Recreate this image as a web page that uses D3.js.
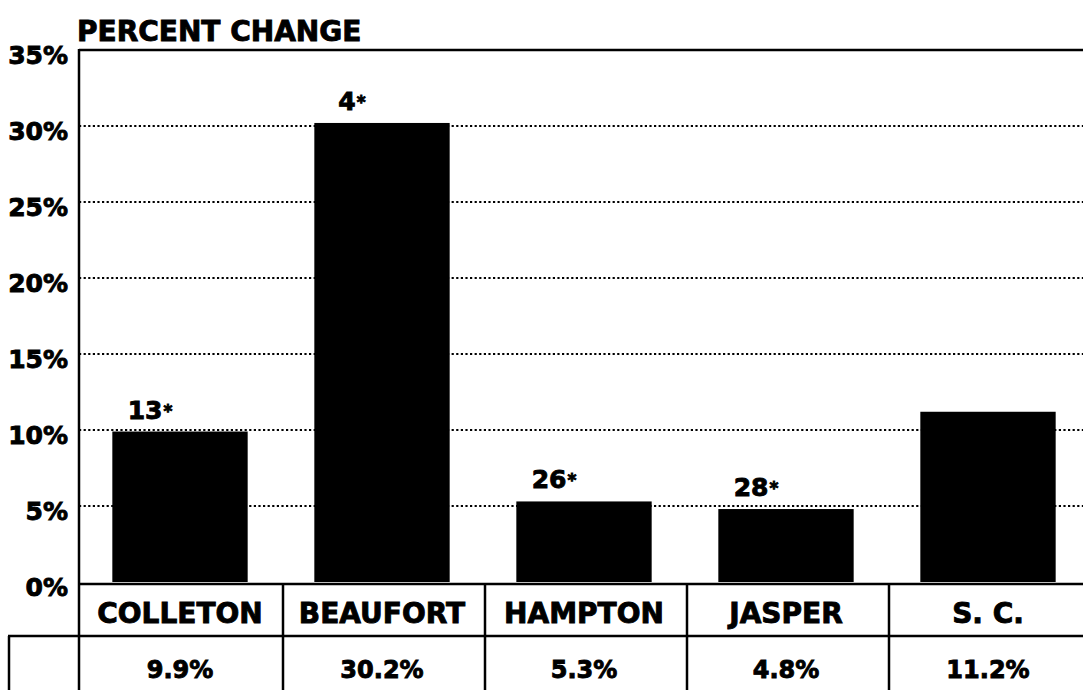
<!DOCTYPE html>
<html>
<head>
<meta charset="utf-8">
<script src="https://cdn.jsdelivr.net/npm/d3@7"></script>
<style>
  body { margin: 0; background: #fff; }
  svg { display: block; font-family: "DejaVu Sans", sans-serif; font-weight: bold; }
  .lbl { fill: #000; stroke: #000; stroke-width: 0.9; }
</style>
</head>
<body>
<svg id="chart"></svg>
<script>
// percent change by area
const areas = ['COLLETON', 'BEAUFORT', 'HAMPTON', 'JASPER', 'S. C.'];
const change = [9.9, 30.2, 5.3, 4.8, 11.2];
const ranks = ['13', '4', '26', '28', null];
const yTicks = [0, 5, 10, 15, 20, 25, 30, 35];

const W = 1083, H = 690;
const margin = {top: 50, left: 79, right: -6, bottom: 108};

const svg = d3.select('#chart').attr('width', W).attr('height', H);
svg.append('rect').attr('width', W).attr('height', H).attr('fill', '#fff');

const x = d3.scaleBand()
  .domain(areas)
  .range([margin.left, W - margin.right])
  .paddingInner(0.33)
  .paddingOuter(0.165);

const y = d3.scaleLinear()
  .domain([0, 35])
  .range([H - margin.bottom, margin.top]);

const base = y(0);
const rowTop = base + 2, rowMid = rowTop + 52;

// dotted gridlines
svg.append('g').selectAll('line')
  .data(yTicks.filter(d => d > 0 && d < 35))
  .enter().append('line')
    .attr('x1', margin.left).attr('x2', W)
    .attr('y1', d => y(d)).attr('y2', d => y(d))
    .attr('stroke', '#000')
    .attr('stroke-width', 2.2)
    .attr('stroke-dasharray', '2.2,2.4');

// top frame
svg.append('line')
  .attr('x1', margin.left).attr('x2', W)
  .attr('y1', y(35)).attr('y2', y(35))
  .attr('stroke', '#000').attr('stroke-width', 2.5);

// bars
svg.append('g').selectAll('rect')
  .data(areas)
  .enter().append('rect')
    .attr('x', d => x(d))
    .attr('width', x.bandwidth())
    .attr('y', (d, i) => y(change[i]))
    .attr('height', (d, i) => base - y(change[i]))
    .attr('fill', '#000');

// rank labels above bars
const rk = svg.append('g').selectAll('text')
  .data(areas.filter((d, i) => ranks[i]))
  .enter().append('text')
    .attr('class', 'lbl')
    .attr('x', d => x(d) + x.bandwidth() / 2 - 30)
    .attr('y', d => y(change[areas.indexOf(d)]) - 13)
    .attr('text-anchor', 'middle')
    .style('font-size', '25px');
rk.append('tspan').text(d => ranks[areas.indexOf(d)]);
rk.append('tspan').attr('dy', -2).attr('dx', 1).style('font-size', '17px').text('*');

// y axis
const yAxis = d3.axisLeft(y)
  .tickValues(yTicks)
  .tickFormat(d => d + '%')
  .tickSize(0)
  .tickPadding(11);

const ag = svg.append('g')
  .attr('transform', `translate(${margin.left},0)`)
  .call(yAxis);
ag.select('.domain').remove();
ag.selectAll('text')
  .attr('class', 'lbl')
  .attr('dy', '0.55em')
  .style('font-size', '25px')
  .style('font-family', '"DejaVu Sans", sans-serif')
  .style('font-weight', 'bold');

// axis line running down through the table
svg.append('line')
  .attr('x1', margin.left).attr('x2', margin.left)
  .attr('y1', y(35) - 1).attr('y2', H)
  .attr('stroke', '#000').attr('stroke-width', 2.5);

// title
svg.append('text')
  .attr('class', 'lbl')
  .attr('x', margin.left - 2)
  .attr('y', 41)
  .style('font-size', '28px')
  .text('PERCENT CHANGE');

// table
const tbl = svg.append('g');
tbl.append('line')
  .attr('x1', margin.left).attr('x2', W)
  .attr('y1', rowTop).attr('y2', rowTop)
  .attr('stroke', '#000').attr('stroke-width', 2.5);
tbl.append('line')
  .attr('x1', 8).attr('x2', W)
  .attr('y1', rowMid).attr('y2', rowMid)
  .attr('stroke', '#000').attr('stroke-width', 2.5);
tbl.append('line')
  .attr('x1', 9).attr('x2', 9)
  .attr('y1', rowMid).attr('y2', H)
  .attr('stroke', '#000').attr('stroke-width', 2.5);

tbl.selectAll('.div')
  .data(areas.slice(1))
  .enter().append('line')
    .attr('class', 'div')
    .attr('x1', d => x(d) - x.step() * x.paddingInner() / 2 + 2)
    .attr('x2', d => x(d) - x.step() * x.paddingInner() / 2 + 2)
    .attr('y1', rowTop).attr('y2', H)
    .attr('stroke', '#000').attr('stroke-width', 2.5);

tbl.selectAll('.name')
  .data(areas)
  .enter().append('text')
    .attr('class', 'lbl name')
    .attr('x', d => x(d) + x.bandwidth() / 2)
    .attr('y', rowTop + 39)
    .attr('text-anchor', 'middle')
    .style('font-size', '28px')
    .text(d => d);

tbl.selectAll('.val')
  .data(change)
  .enter().append('text')
    .attr('class', 'lbl val')
    .attr('x', (d, i) => x(areas[i]) + x.bandwidth() / 2)
    .attr('y', rowMid + 42)
    .attr('text-anchor', 'middle')
    .style('font-size', '24px')
    .text(d => d.toFixed(1) + '%');
</script>
</body>
</html>
